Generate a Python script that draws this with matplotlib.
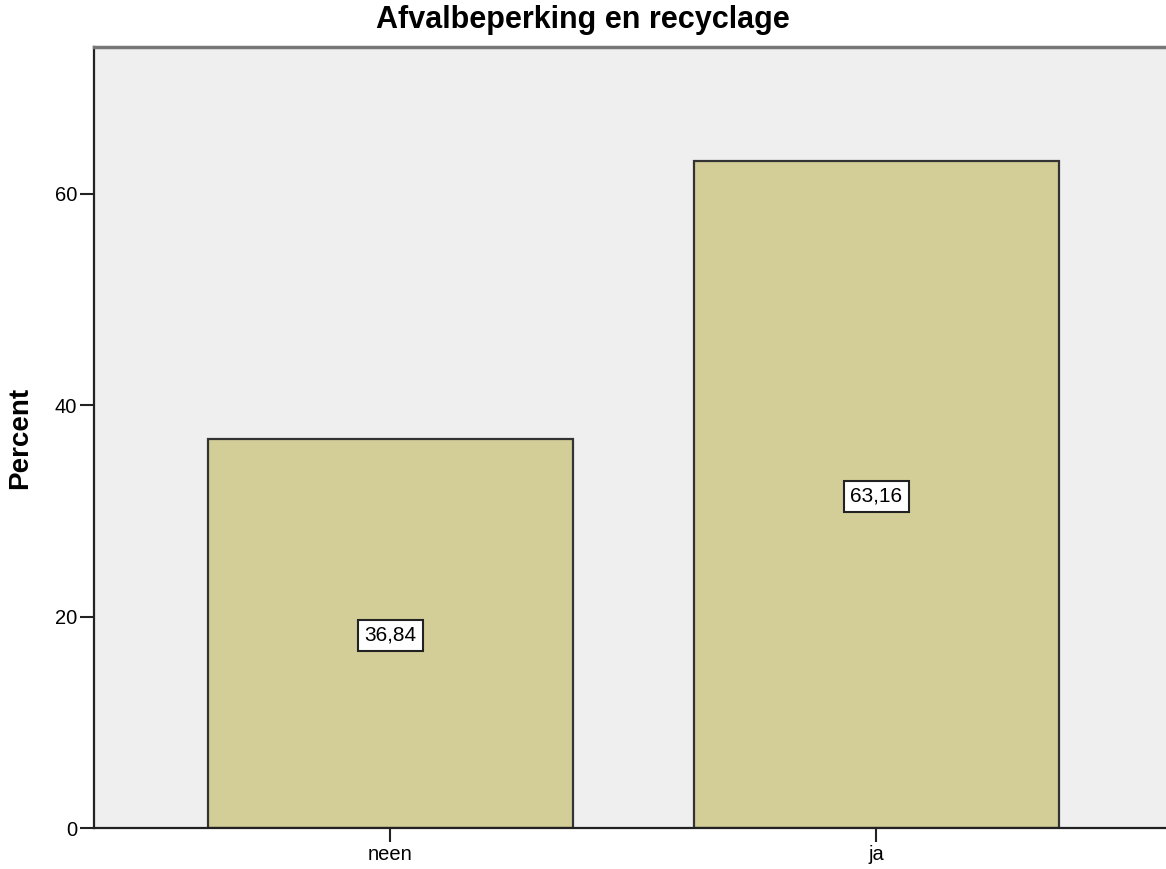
import matplotlib.pyplot as plt

# data
categories = ["neen", "ja"]
percent = [36.84, 63.16]
value_labels = ["36,84", "63,16"]
yticks = [0, 20, 40, 60]

plt.rcParams['font.family'] = ['Liberation Sans', 'DejaVu Sans']

fig = plt.figure(figsize=(11.66, 8.69), dpi=100)
ax = fig.add_axes([94 / 1166, 41 / 869, 1 - 94 / 1166, (828 - 47) / 869])

xpos = list(range(len(categories)))
ax.bar(xpos, percent, width=0.751, color='#d3ce97', edgecolor='#333333', linewidth=1.6, zorder=2)

# value boxes in the middle of each bar
for x, v, lab in zip(xpos, percent, value_labels):
    ax.text(x, v / 2, lab, ha='center', va='center_baseline', fontsize=15, zorder=3,
            bbox=dict(boxstyle='square,pad=0.3', facecolor='white', edgecolor='#222222', linewidth=1.5))

ax.set_facecolor('#efefef')
ax.set_xlim(-0.610, 1.596)
ax.set_ylim(0, 73.9)
ax.set_xticks(xpos)
ax.set_xticklabels(categories, fontsize=14.5)
ax.set_yticks(yticks)
ax.set_yticklabels([str(t) for t in yticks], fontsize=14.5)
ax.tick_params(length=10, width=1.5, color='#222222', pad=2)

ax.spines['right'].set_visible(False)
ax.spines['top'].set_color('#777777')
ax.spines['top'].set_linewidth(2.5)
ax.spines['left'].set_linewidth(1.6)
ax.spines['bottom'].set_linewidth(1.6)
ax.spines['left'].set_color('#222222')
ax.spines['bottom'].set_color('#222222')

ax.set_ylabel("Percent", fontsize=20, fontweight='bold', labelpad=16)
# title is centred on the figure, not on the axes
ax.set_title("Afvalbeperking en recyclage", fontsize=22, fontweight='bold', pad=14, x=0.456)

fig.savefig("out.png", dpi=100)
